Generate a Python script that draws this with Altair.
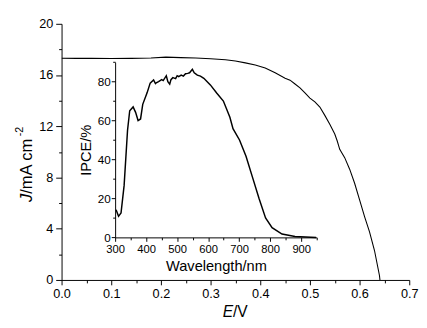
import altair as alt
import pandas as pd

# ---- data ----
E_V = [0.00, 0.03, 0.06, 0.10, 0.14, 0.18, 0.21, 0.24, 0.27, 0.30, 0.33, 0.35,
       0.37, 0.39, 0.41, 0.43, 0.45, 0.46, 0.47, 0.48, 0.49, 0.50, 0.51, 0.52,
       0.53, 0.54, 0.55, 0.555, 0.56, 0.57, 0.58, 0.59, 0.60, 0.61, 0.62, 0.63,
       0.64, 0.641]
J_mAcm2 = [17.31, 17.30, 17.30, 17.29, 17.30, 17.33, 17.40, 17.36, 17.33, 17.27,
           17.20, 17.10, 16.95, 16.78, 16.55, 16.18, 15.75, 15.60, 15.30, 15.00,
           14.60, 14.20, 13.90, 13.50, 12.85, 12.15, 11.40, 10.85, 10.20, 9.55,
           8.65, 7.55, 6.25, 4.95, 3.75, 2.30, 0.35, 0.0]

wavelength_nm = [303, 311, 319, 329, 340, 347, 358, 366, 374, 382, 389, 403, 413,
                 424, 430, 434, 440, 450, 455, 465, 470, 476, 480, 486, 495, 500,
                 505, 513, 520, 527, 534, 540, 549, 555, 565, 575, 586, 607, 628,
                 649, 670, 680, 701, 722, 743, 764, 785, 806, 838, 880, 948]
ipce_pct = [14.2, 10.8, 12.5, 26.7, 55.0, 65.0, 67.0, 64.2, 60.0, 60.8, 68.3, 74.2,
            79.2, 80.8, 79.0, 79.5, 80.0, 81.0, 80.5, 83.0, 80.0, 78.7, 81.0, 82.0,
            81.5, 83.0, 82.5, 83.3, 82.8, 84.0, 84.2, 84.5, 86.3, 84.5, 83.3, 82.8,
            81.7, 78.3, 74.0, 70.0, 61.7, 55.8, 50.0, 41.7, 30.8, 20.0, 10.0, 5.0,
            1.7, 0.5, 0.0]

main_x_ticks = [round(i * 0.05, 2) for i in range(15)]
main_y_ticks = list(range(0, 21, 2))
inset_x_ticks = list(range(300, 951, 50))
inset_y_ticks = list(range(0, 91, 10))

# ---- layout ----
W, H = 357, 263
IX0, IX1 = 55, 262          # inset x range inside plot (px)
IY0, IY1 = 219.3, 39.3      # inset y range inside plot (px)
FONT = "Liberation Sans"

main_df = pd.DataFrame({"E": E_V, "J": J_mAcm2})
ipce_df = pd.DataFrame({"wl": wavelength_nm, "ipce": ipce_pct})


def tick_cond(test, big, small):
    return {"condition": {"test": test, "value": big}, "value": small}


main = alt.Chart(main_df).mark_line(color="black", strokeWidth=1.1, clip=True).encode(
    x=alt.X("E:Q",
            scale=alt.Scale(domain=[0, 0.7], nice=False, zero=False),
            axis=alt.Axis(orient="bottom", values=main_x_ticks, title=None,
                          labelExpr="round(datum.value*100) % 10 == 0 ? format(datum.value, '.1f') : ''",
                          tickSize=tick_cond("round(datum.value*100) % 10 == 0", 5, 3),
                          labelFontSize=13, labelPadding=3, labelFlush=False,
                          labelOverlap=False, grid=False)),
    y=alt.Y("J:Q",
            scale=alt.Scale(domain=[0, 20], nice=False, zero=False),
            axis=alt.Axis(orient="left", values=main_y_ticks, title=None,
                          labelExpr="datum.value % 4 == 0 ? format(datum.value, 'd') : ''",
                          tickSize=tick_cond("datum.value % 4 == 0", 6, 3),
                          labelFontSize=13, labelPadding=3, labelFlush=False,
                          labelOverlap=False, grid=False)),
    order=alt.Order("E:Q"),
)

inset = alt.Chart(ipce_df).mark_line(color="black", strokeWidth=1.5).encode(
    x=alt.X("wl:Q",
            scale=alt.Scale(domain=[300, 950], range=[IX0, IX1], nice=False, zero=False),
            axis=alt.Axis(orient="bottom", offset=-(H - IY0), values=inset_x_ticks,
                          title="Wavelength/nm", titleFontSize=15, titleFontWeight="normal",
                          titlePadding=4,
                          labelExpr="datum.value % 100 == 0 ? format(datum.value, 'd') : ''",
                          tickSize=tick_cond("datum.value % 100 == 0", 4, 2.5),
                          labelFontSize=11.5, labelPadding=3, labelFlush=False,
                          labelOverlap=False, grid=False)),
    y=alt.Y("ipce:Q",
            scale=alt.Scale(domain=[0, 90], range=[IY0, IY1], nice=False, zero=False),
            axis=alt.Axis(orient="left", offset=-IX0, values=inset_y_ticks,
                          title="IPCE/%", titleFontSize=15, titleFontWeight="normal",
                          titlePadding=4,
                          labelExpr="datum.value % 20 == 0 ? format(datum.value, 'd') : ''",
                          tickSize=tick_cond("datum.value % 20 == 0", 4, 2.5),
                          labelFontSize=12, labelPadding=1, labelFlush=False,
                          labelOverlap=False, grid=False)),
    order=alt.Order("wl:Q"),
)

one = pd.DataFrame({"k": [0]})


def label(text, x, y, size, style="normal", angle=0):
    return alt.Chart(one).mark_text(
        text=text, font=FONT, fontSize=size, fontStyle=style, color="black",
        align="left", baseline="middle", angle=angle,
    ).encode(x=alt.value(x), y=alt.value(y))


titles = [
    label("J", -35.5, 183, 17, "italic", 270),
    label("/mA cm", -35.5, 174.5, 17, "normal", 270),
    label("-2", -42.5, 115.5, 11, "normal", 270),
    label("E", 165.5, 296.5, 16, "italic"),
    label("/V", 176.0, 296.5, 16, "normal"),
]

chart = alt.layer(main, inset, *titles).resolve_scale(
    x="independent", y="independent"
).properties(
    width=W, height=H,
    padding={"left": 6, "top": 6, "right": 0, "bottom": 0},
).configure_view(stroke=None).configure_axis(
    domainColor="black", tickColor="black", labelColor="black", titleColor="black",
    labelFont=FONT, titleFont=FONT, domainWidth=1, tickWidth=1,
)

chart.save("out.html", embed_options={"renderer": "svg", "actions": False})
